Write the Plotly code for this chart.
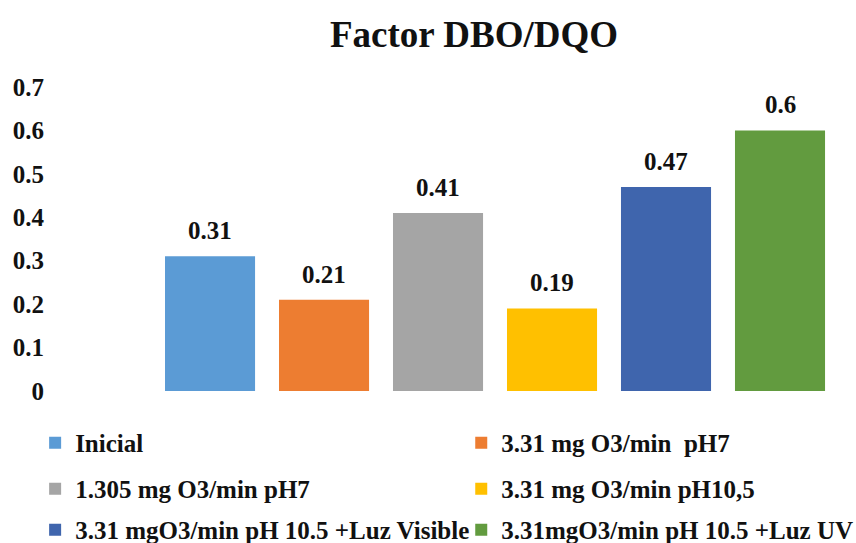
import plotly.graph_objects as go

# Series shown on the chart: one bar per treatment
series_names = [
    "Inicial",
    "3.31 mg O3/min  pH7",
    "1.305 mg O3/min pH7",
    "3.31 mg O3/min pH10,5",
    "3.31 mgO3/min pH 10.5 +Luz Visible",
    "3.31mgO3/min pH 10.5 +Luz UV",
]
ratio_values = [0.31, 0.21, 0.41, 0.19, 0.47, 0.60]
value_labels = ["0.31", "0.21", "0.41", "0.19", "0.47", "0.6"]
bar_colors = ["#5B9BD5", "#ED7D31", "#A5A5A5", "#FFC000", "#3F65AD", "#629B3F"]

y_tick_values = [0, 0.1, 0.2, 0.3, 0.4, 0.5, 0.6, 0.7]
y_tick_labels = ["0", "0.1", "0.2", "0.3", "0.4", "0.5", "0.6", "0.7"]

FONT = "Liberation Serif"
INK = "#111111"

# each legend entry gets its own legend box: two columns, three rows
legend_ids = ["legend", "legend2", "legend3", "legend4", "legend5", "legend6"]
legend_cols = [-0.025, 0.511]
legend_rows = [-0.171, -0.322, -0.457]

fig = go.Figure()
for i, (name, val, col, lg) in enumerate(zip(series_names, ratio_values, bar_colors, legend_ids)):
    fig.add_trace(go.Bar(
        x=[i], y=[val], name=name, width=0.79,
        marker=dict(color=col, line=dict(width=0)),
        legend=lg, hoverinfo="name+y",
    ))
    fig.add_annotation(
        x=i, y=val, text=value_labels[i], showarrow=False,
        yanchor="bottom", yshift=10,
        font=dict(family=FONT, size=25, color=INK, weight="bold"),
    )

legend_layout = {}
for k, lg in enumerate(legend_ids):
    legend_layout[lg] = dict(
        orientation="h", xref="paper", yref="paper",
        x=legend_cols[k % 2], y=legend_rows[k // 2],
        xanchor="left", yanchor="middle",
        font=dict(family=FONT, size=25, color=INK, weight="bold"),
        bgcolor="rgba(0,0,0,0)",
    )

fig.update_layout(
    width=856, height=543,
    margin=dict(l=55, r=6, t=87, b=152, autoexpand=False),
    paper_bgcolor="white", plot_bgcolor="white",
    barmode="overlay",
    title=dict(
        text="Factor DBO/DQO", x=474 / 856, xanchor="center",
        y=1 - 34 / 543, yanchor="middle",
        font=dict(family=FONT, size=37, color=INK, weight="bold"),
    ),
    xaxis=dict(range=[-1.36, 5.614], showticklabels=False, showgrid=False,
               zeroline=False, showline=False, ticks=""),
    yaxis=dict(range=[0, 0.7], tickvals=y_tick_values, ticktext=y_tick_labels,
               showgrid=False, zeroline=False, showline=False, ticks="",
               ticklabelstandoff=10,
               tickfont=dict(family=FONT, size=25, color=INK, weight="bold")),
    showlegend=True,
    **legend_layout,
)

fig.write_html("out.html")
